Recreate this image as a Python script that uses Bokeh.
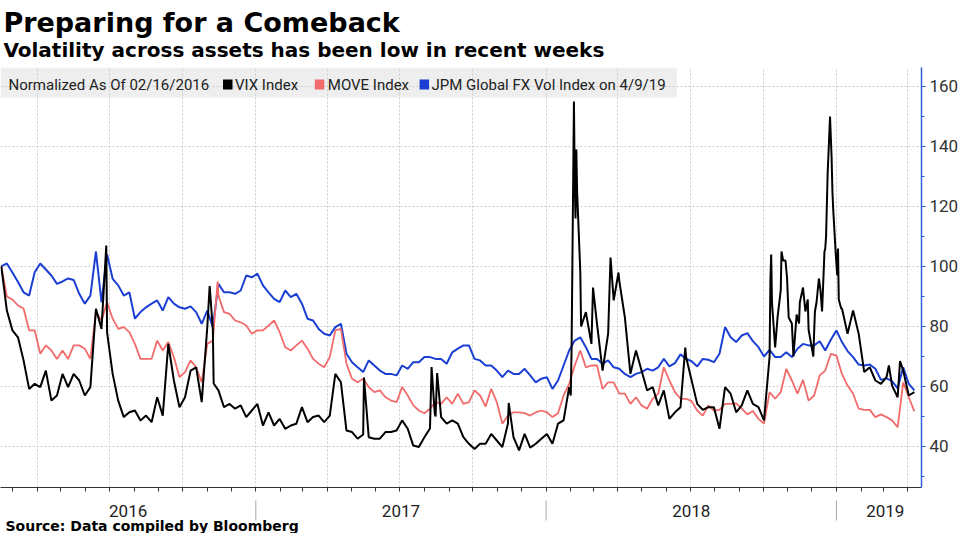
import pandas as pd
from bokeh.plotting import figure
from bokeh.layouts import column
from bokeh.models import Range1d, FixedTicker, BoxAnnotation, Label
from bokeh.embed import file_html
from bokeh.resources import INLINE

# ---------------- data (normalized, 02/16/2016 = 100) ----------------
sample_dates = pd.date_range("2016-02-16", "2019-04-09", freq="7D")  # weekly sample dates

vix_weekly = [
    100, 85.3, 78.7, 76.4, 68.7, 59.2, 60.9, 59.8, 65.3, 55.3,
    57, 64.2, 59.8, 64.2, 62, 57, 59.8, 85.9, 79.2, 78,
    64.2, 55.3, 49.8, 51.4, 52, 48.7, 50.3, 48.1, 56.4, 50.3,
    74.2, 62, 53.1, 56.4, 65.3, 66.4, 54.8, 79.8, 79, 58.7,
    53.1, 54.2, 52.6, 53.7, 49.8, 52, 54.2, 47, 51.4, 47,
    49.2, 45.9, 47, 47.6, 53.1, 48.1, 49.8, 50.3, 48.1, 50.3,
    64.2, 61.4, 45.3, 44.8, 42.6, 44, 43.1, 42.6, 42.6, 44.8,
    44.8, 45.3, 48.7, 45.9, 40.3, 39.8, 43.1, 46, 50, 49.8,
    47.6, 48.7, 47.6, 43.1, 40.9, 39.2, 40.9, 40.9, 44.2, 42,
    39.8, 47.6, 43.1, 38.7, 44.2, 39.6, 40.9, 42.6, 44.2, 40.9,
    47.6, 48.7, 59.8, 128, 98, 84.8, 74.2, 80.9, 65.3, 77.6,
    88.7, 95.3, 83.1, 64.2, 72, 65.3, 58.7, 59.8, 53.7, 58.7,
    49.2, 51.4, 53.1, 69.8, 62, 54.2, 52.2, 53.1, 53.1, 45.9,
    59.8, 57.6, 51.4, 53.7, 58.7, 54.2, 53.1, 48.7, 70, 73,
    92, 99, 81, 83, 93, 79, 78, 94, 106, 143,
    101, 86, 77.6, 85.3, 77.6, 64.8, 66.4, 62, 60.9, 63.1,
    60.3, 56.4, 65.3, 57, 58.1,
]
vix_extra_dates = [
    "2016-06-27", "2016-11-04", "2016-11-09", "2017-05-17", "2017-08-10",
    "2017-08-14", "2017-08-17", "2017-11-15", "2018-02-01", "2018-02-02",
    "2018-02-05", "2018-02-07", "2018-02-08", "2018-02-09", "2018-02-12",
    "2018-02-14", "2018-03-01", "2018-03-23", "2018-04-02", "2018-04-06",
    "2018-06-25", "2018-10-10", "2018-10-11", "2018-10-12", "2018-10-19",
    "2018-10-24", "2018-10-26", "2018-10-29", "2018-10-31", "2018-11-02",
    "2018-11-08", "2018-11-12", "2018-11-15", "2018-11-16", "2018-11-23",
    "2018-11-26", "2018-11-29", "2018-12-03", "2018-12-05", "2018-12-07",
    "2018-12-10", "2018-12-12", "2018-12-14", "2018-12-17", "2018-12-19",
    "2018-12-21", "2018-12-24", "2018-12-26", "2018-12-27", "2018-12-28",
    "2018-12-31", "2019-01-02", "2019-01-03", "2019-01-04", "2019-01-07",
    "2019-03-08", "2019-03-22",
]
vix_extra = [
    107, 93.5, 61, 63, 66.5,
    51, 64.5, 54.5, 57, 72,
    155, 116, 139, 125, 105,
    80, 93, 103, 98, 90,
    73, 95, 104, 88, 83,
    105, 102, 102, 96, 83,
    70, 84, 81, 88, 85,
    89, 76, 70, 85, 88,
    96, 92, 85, 105, 110,
    131, 150, 136, 125, 119,
    105, 97, 106, 89, 86,
    67, 68.5,
]

move_weekly = [
    100, 90, 89, 87, 86, 78.7, 78.7, 70.9, 73.7, 72,
    69.2, 72, 69.2, 73.7, 73.7, 72.6, 69.2, 84.8, 82, 88.1,
    82.6, 79.2, 79.8, 78.1, 74.2, 69.2, 69.2, 69.2, 75.3, 72,
    74.8, 69.8, 63.1, 64.8, 68.7, 66.4, 61.4, 74.2, 75.3, 90.3,
    84.8, 84.2, 82, 81.4, 80.3, 77.6, 78.7, 78.7, 80.3, 82,
    78.1, 73.1, 72, 73.7, 75.3, 72.6, 69.2, 67.6, 66.4, 69.8,
    78.7, 79.2, 67.6, 62.6, 61.4, 62.6, 59.8, 58.1, 58.7, 56.4,
    55.3, 54.8, 59.8, 57, 53.7, 52, 51.1, 52.6, 54.8, 54.2,
    56.4, 54.2, 57.6, 54.2, 54.8, 58.7, 57, 53.3, 59.2, 54.8,
    47.6, 50.3, 51.4, 51.4, 51.1, 50.3, 51.4, 52, 51.4, 49.8,
    51.1, 57, 60.9, 67, 72, 66.4, 67, 67, 59.2, 61.4,
    61.4, 57.6, 57.6, 54.2, 56.4, 53.7, 52.6, 55.9, 57.6, 66.4,
    62, 58.1, 55.9, 55.9, 55.1, 52, 50.3, 53.7, 52, 52.2,
    54.2, 54.2, 54.4, 52.6, 50.7, 51.8, 49.2, 47.6, 58.1, 55.9,
    58.1, 65.9, 62, 57.6, 62.2, 55.3, 57, 63.7, 65.3, 70.9,
    70.3, 64.2, 60.3, 57.6, 52.6, 52.2, 52.2, 49.8, 50.7, 49.8,
    48.7, 46.4, 61.4, 56.4, 51.7,
]
move_extra_dates = ["2016-11-14"]
move_extra = [95]

fx_weekly = [
    100, 101, 98, 94.8, 91.4, 90.3, 98.1, 101, 99, 97,
    94.2, 95, 96, 95.5, 90.9, 87.6, 90.3, 105, 88, 104,
    95.9, 93.7, 90.3, 91.4, 82.6, 84.8, 86.4, 87.6, 88.7, 85.3,
    89.8, 87.6, 86.4, 85.9, 86.7, 84.8, 80.9, 85.3, 79.8, 94.2,
    91.4, 91.4, 90.9, 92, 97, 96.4, 97.6, 93.7, 91.4, 89.2,
    88.1, 92, 89.8, 90.9, 87.6, 82.6, 82, 79.2, 77.6, 77,
    79.8, 80.9, 70.9, 68.1, 66.4, 64.8, 68.7, 67, 65.3, 64.2,
    64.2, 63.7, 67, 65.9, 68.1, 68.1, 69.8, 69.8, 69.2, 69.2,
    67.6, 71.4, 72.6, 73.7, 73.7, 69.2, 68.7, 67, 67, 65.3,
    63.1, 65.3, 64.2, 64.2, 65.9, 63.7, 61.4, 62.6, 63.1, 59.2,
    62, 67, 72, 75.3, 76.4, 73.1, 69.2, 69.2, 67.6, 68.7,
    66.4, 65.9, 64.2, 63.1, 64.2, 64.8, 65.9, 65.3, 66.4, 69.2,
    66.7, 67.8, 70.7, 69.2, 68.4, 66.7, 69.2, 68.9, 68.1, 70.9,
    79.8, 76.4, 74.8, 77, 77.8, 75.1, 73.1, 70, 72.2, 69.8,
    69.8, 71.4, 69.8, 72.6, 74.2, 73.7, 73.7, 75.1, 72, 75.6,
    78.7, 74.8, 71.8, 69.8, 67.3, 67, 67.3, 65.9, 62.2, 62.7,
    61.8, 59.4, 66.4, 60.9, 58.7,
]

series_names = ["VIX Index", "MOVE Index", "JPM Global FX Vol Index on 4/9/19"]
series_colors = ["#000000", "#f26b6b", "#1c3fd3"]
year_labels = ["2016", "2017", "2018", "2019"]
year_starts = ["2017-01-01", "2018-01-01", "2019-01-01"]
y_ticks = [40, 60, 80, 100, 120, 140, 160]
y_minor_ticks = [30, 50, 70, 90, 110, 130, 150]


def merged(base, extra_dates, extra_vals):
    s = pd.Series(base, index=sample_dates[:len(base)], dtype=float)
    e = pd.Series(extra_vals, index=pd.to_datetime(extra_dates), dtype=float)
    m = pd.concat([s, e])
    return m[~m.index.duplicated(keep="last")].sort_index()


vix = merged(vix_weekly, vix_extra_dates, vix_extra)
move = merged(move_weekly, move_extra_dates, move_extra)
fxv = pd.Series(fx_weekly, index=sample_dates[:len(fx_weekly)], dtype=float)


def ms(d):
    return float(pd.Timestamp(d).value // 10**6)


# ---------------- geometry ----------------
W = 961
X_START, X_END = ms("2016-02-15"), ms("2019-04-18")
Y_BOT, Y_TOP = 26.33, 166.33
FR_W, FR_H = 923, 420
HEAD_H, FOOT_H, AXIS_H = 67, 41, 5


def px_x(fx):            # horizontal pixel inside the frame -> datetime (ms)
    return X_START + (X_END - X_START) * fx / FR_W


def px_y(fy):            # vertical pixel inside the frame -> value
    return Y_TOP - fy / FR_H * (Y_TOP - Y_BOT)


def text_label(fig, x, y, text, font, size, bold=False, color="#000000", align="left"):
    fig.add_layout(Label(x=x, y=y, text=text, text_font=font, text_font_size=size,
                         text_font_style="bold" if bold else "normal", text_color=color,
                         text_align=align, text_baseline="middle"))


# ---------------- header (title + subtitle) ----------------
head = figure(width=W, height=HEAD_H, x_range=Range1d(0, W), y_range=Range1d(HEAD_H, 0),
              x_axis_location=None, y_axis_location=None, output_backend="svg",
              toolbar_location=None, min_border=0, min_border_left=0, min_border_right=0,
              min_border_top=0, min_border_bottom=0)
head.outline_line_color = None
head.grid.visible = False
text_label(head, 3, 21.5, "Preparing for a Comeback", "DejaVu Sans", "27px", bold=True)
text_label(head, 3, 49, "Volatility across assets has been low in recent weeks", "DejaVu Sans", "20px", bold=True)

# ---------------- main chart ----------------
p = figure(width=W, height=FR_H + AXIS_H, x_axis_type="datetime", y_axis_location="right",
           x_range=Range1d(X_START, X_END), y_range=Range1d(Y_BOT, Y_TOP),
           output_backend="svg", toolbar_location=None,
           min_border_left=0, min_border_right=W - FR_W, min_border_top=0, min_border_bottom=AXIS_H)
p.outline_line_color = None

quarters = pd.date_range("2016-04-01", "2019-04-01", freq="QS")
p.xgrid[0].ticker = FixedTicker(ticks=[ms(d) for d in quarters])
p.ygrid[0].ticker = FixedTicker(ticks=y_ticks)
for g in (p.xgrid[0], p.ygrid[0]):
    g.grid_line_color = "#cccccc"
    g.grid_line_dash = "2 2"
    g.grid_line_width = 1

months = pd.date_range("2016-03-01", "2019-04-01", freq="MS")
xa = p.xaxis[0]
xa.ticker = FixedTicker(ticks=[], minor_ticks=[ms(d) for d in months])
xa.major_tick_out = 0
xa.major_tick_in = 0
xa.major_label_standoff = 0
xa.major_label_text_font_size = "0px"
xa.minor_tick_out = 4
xa.minor_tick_in = 0
xa.minor_tick_line_color = "#333333"
xa.axis_line_color = "#333333"

AX_BLUE = "#2f5fd8"
ya = p.yaxis[0]
ya.ticker = FixedTicker(ticks=y_ticks, minor_ticks=y_minor_ticks)
ya.axis_line_color = AX_BLUE
ya.axis_line_width = 1.5
ya.major_tick_line_color = AX_BLUE
ya.minor_tick_line_color = AX_BLUE
ya.major_tick_out = 4
ya.major_tick_in = 0
ya.minor_tick_out = 3
ya.minor_tick_in = 0
ya.major_label_standoff = 4
ya.major_label_text_font = "Roboto"
ya.major_label_text_font_size = "17px"
ya.major_label_text_color = "#333333"

p.line(fxv.index, fxv.values, line_color=series_colors[2], line_width=2)
p.line(move.index, move.values, line_color=series_colors[1], line_width=1.8)
p.line(vix.index, vix.values, line_color=series_colors[0], line_width=2)

# legend bar
p.add_layout(BoxAnnotation(left=px_x(0), right=px_x(678), top=Y_TOP, bottom=px_y(30),
                           fill_color="#eeeeee", fill_alpha=1, line_color=None, level="image"))
LEG_MID = px_y(17)
text_label(p, px_x(8), LEG_MID, "Normalized As Of 02/16/2016", "Roboto", "15px", color="#222222")
sq_left = [223, 315, 420]
txt_left = [235, 328, 432]
for name, col, sl, tl in zip(series_names, series_colors, sq_left, txt_left):
    p.add_layout(BoxAnnotation(left=px_x(sl), right=px_x(sl + 9.5), top=px_y(12), bottom=px_y(22),
                               fill_color=col, fill_alpha=1, line_color=None, level="annotation"))
    text_label(p, px_x(tl), LEG_MID, name, "Roboto", "15px", color="#222222")

# ---------------- footer (year labels, separators, source) ----------------
foot = figure(width=W, height=FOOT_H, x_range=p.x_range, y_range=Range1d(FOOT_H, 0),
              x_axis_location=None, y_axis_location=None, output_backend="svg",
              toolbar_location=None, min_border=0, min_border_left=0, min_border_right=W - FR_W,
              min_border_top=0, min_border_bottom=0)
foot.outline_line_color = None
foot.grid.visible = False

year_bounds = [X_START] + [ms(d) for d in year_starts] + [ms("2019-05-04")]
year_mids = [(a + b) / 2 for a, b in zip(year_bounds[:-1], year_bounds[1:])]
for m, lab in zip(year_mids, year_labels):
    text_label(foot, m, 18, lab, "Roboto", "17px", color="#222222", align="center")
sep_x = [ms(d) for d in year_starts]
foot.segment(x0=sep_x, y0=[8] * len(sep_x), x1=sep_x, y1=[28] * len(sep_x),
             line_color="#a8a8a8", line_width=1)
text_label(foot, px_x(5), 33, "Source: Data compiled by Bloomberg", "DejaVu Sans", "14px", bold=True)

layout = column(head, p, foot, spacing=0)
open("out.html", "w").write(file_html(layout, INLINE, title="Preparing for a Comeback"))
